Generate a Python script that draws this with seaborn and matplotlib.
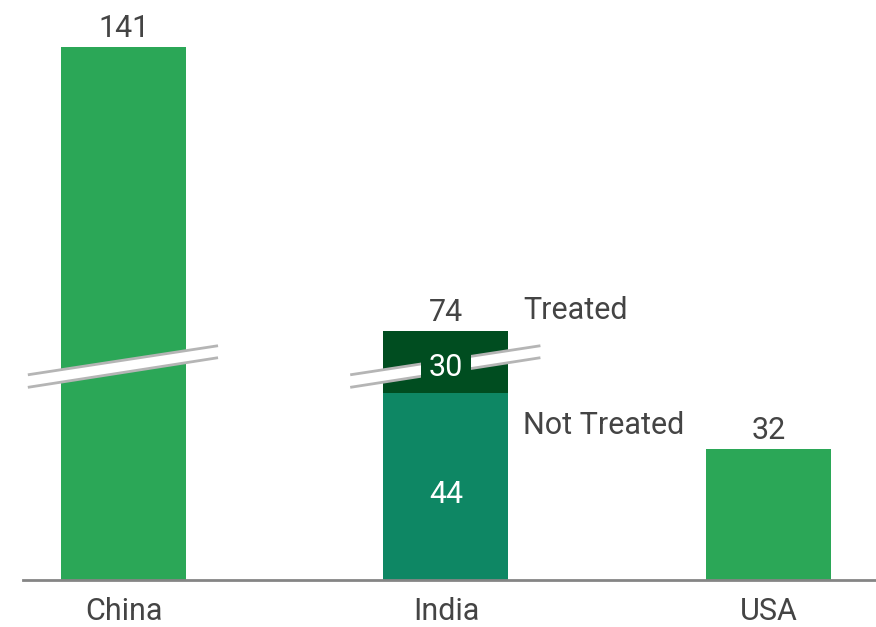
import numpy as np
import pandas as pd
import matplotlib
matplotlib.use("Agg")
import matplotlib.pyplot as plt
import matplotlib.transforms as mtransforms
from matplotlib.patches import Polygon
import seaborn as sns

# ---- data ----
countries = ["China", "India", "USA"]
totals = [141, 74, 32]
india_not_treated = 44
india_treated = 30
segment_labels = ["Treated", "Not Treated"]

# ---- style ----
sns.set_theme(style="white")
plt.rcParams["font.family"] = ["Roboto", "DejaVu Sans"]
TXT = "#444444"
GREEN = "#2ba757"
DARK = "#004d20"
MID = "#0e8764"
FS = 22

fig = plt.figure(figsize=(8.76, 6.27), dpi=100)
ax = fig.add_axes([23 / 876, 47 / 627, 853 / 876, 570 / 627])

df = pd.DataFrame({"country": countries, "total": totals})
sns.barplot(data=df, x="country", y="total", hue="country",
            palette=[GREEN, DARK, GREEN], legend=False, width=0.388,
            linewidth=0, saturation=1, ax=ax)
df2 = pd.DataFrame({"country": ["India"], "val": [india_not_treated]})
sns.barplot(data=df2, x="country", y="val", color=MID, width=0.388,
            linewidth=0, saturation=1, ax=ax, order=countries)

# broken (compressed) value axis: piecewise linear display scale
kv = [0, 32, 44, 74, 141, 300]
kp = [0, 131, 187, 249, 533, 1207]
fwd = lambda v: np.interp(v, kv, kp)
inv = lambda p: np.interp(p, kp, kv)
ax.set_yscale("function", functions=(fwd, inv))
ax.set_ylim(0, inv(570))
ax.set_xlim(-0.312, 2.334)

ax.set_xlabel("")
ax.set_ylabel("")
ax.set_yticks([])
for s in ["top", "right", "left"]:
    ax.spines[s].set_visible(False)
ax.spines["bottom"].set_color("#858585")
ax.spines["bottom"].set_linewidth(2)
ax.tick_params(axis="x", length=0, pad=12, labelsize=FS, labelcolor=TXT)

# value labels
for i, v in enumerate(totals):
    ax.annotate(str(v), (i, v), xytext=(0, 3), textcoords="offset points",
                ha="center", va="bottom", fontsize=FS, color=TXT)
ax.annotate(str(india_not_treated), (1, india_not_treated / 2), xytext=(0, -3),
            textcoords="offset points", ha="center", va="center",
            fontsize=FS, color="white")
ax.annotate(str(india_treated), (1, india_not_treated + india_treated / 2),
            xytext=(0, -4), textcoords="offset points", ha="center",
            va="center", fontsize=FS, color="white", zorder=6,
            bbox=dict(boxstyle="square,pad=0.25", fc=DARK, ec="none"))

# segment labels
ax.annotate(segment_labels[0], (1.24, totals[1]), xytext=(0, 4), textcoords="offset points",
            ha="left", va="bottom", fontsize=FS, color=TXT)
ax.annotate(segment_labels[1], (1.24, india_not_treated), xytext=(0, -13),
            textcoords="offset points", ha="left", va="top", fontsize=FS, color=TXT)

# axis break marks
tr = mtransforms.blended_transform_factory(ax.transData, ax.transAxes)
for c in [0, 1]:
    x0, x1 = c - 0.297, c + 0.293
    up = [(x0, 0.360), (x1, 0.411)]
    lo = [(x0, 0.338), (x1, 0.390)]
    ax.add_patch(Polygon([up[0], up[1], lo[1], lo[0]], closed=True, transform=tr,
                         fc="white", ec="none", zorder=4, clip_on=False))
    for ln in (up, lo):
        ax.plot([p[0] for p in ln], [p[1] for p in ln], transform=tr,
                color="#b5b5b5", lw=2, zorder=5, clip_on=False,
                solid_capstyle="butt")

fig.savefig("out.png", dpi=100)
